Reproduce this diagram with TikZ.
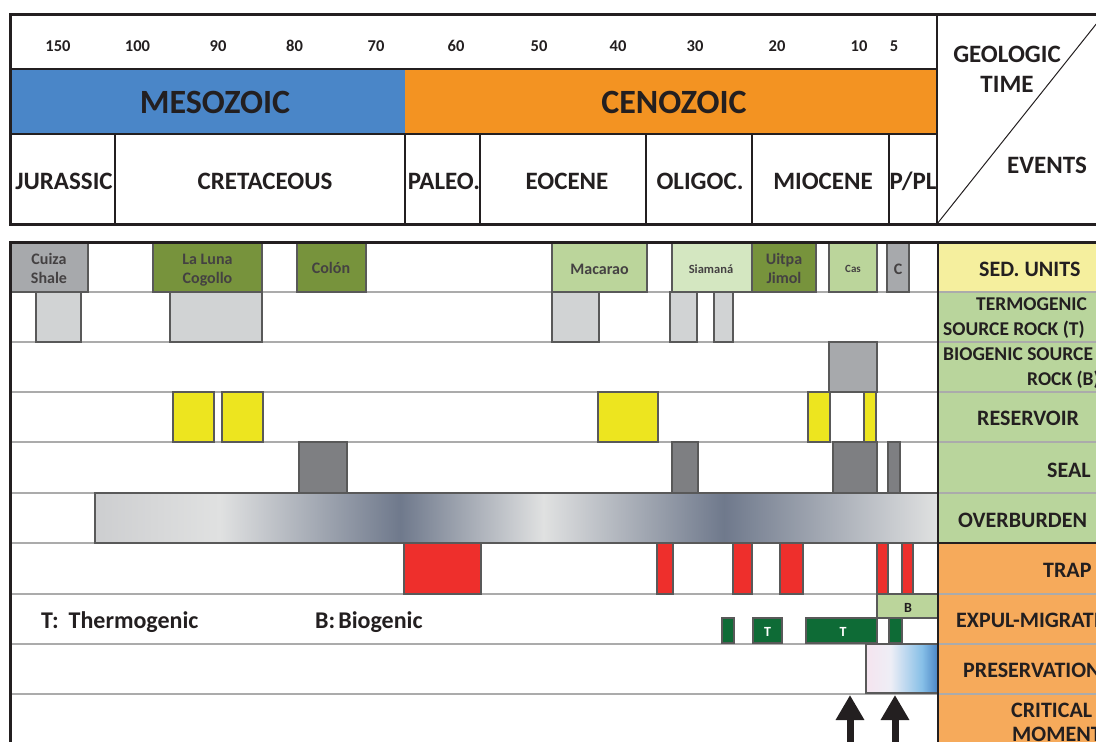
\documentclass[tikz,border=0pt]{standalone}
\usepackage{fontspec}
\setmainfont{Carlito}
\usetikzlibrary{arrows.meta}
\definecolor{ink}{HTML}{231F20}
\definecolor{meso}{HTML}{4A86C8}
\definecolor{ceno}{HTML}{F39322}
\definecolor{sedgray}{HTML}{A7A9AC}
\definecolor{olive}{HTML}{77933C}
\definecolor{lgreen}{HTML}{BBD59B}
\definecolor{pgreen}{HTML}{D4E7C1}
\definecolor{srcgray}{HTML}{D1D3D4}
\definecolor{resyel}{HTML}{EDE51F}
\definecolor{sealgray}{HTML}{7E7F82}
\definecolor{trapred}{HTML}{EE2F2C}
\definecolor{dgreen}{HTML}{0E6B36}
\definecolor{labyel}{HTML}{F5EF9E}
\definecolor{labgreen}{HTML}{B9D59C}
\definecolor{laborange}{HTML}{F6AA5B}
\definecolor{rowline}{HTML}{ABABAB}
\definecolor{obdark}{HTML}{6F798C}
\definecolor{oblight}{HTML}{E0E1E1}
\definecolor{obstart}{HTML}{CDCED0}
\definecolor{prL}{HTML}{F5E4EF}
\definecolor{prW}{HTML}{EEEEF6}
\definecolor{prM}{HTML}{86BFE7}
\definecolor{prR}{HTML}{4A84C4}
\pgfdeclarehorizontalshading{overb}{100bp}{color(0bp)=(obstart); color(25bp)=(obstart); color(32.4bp)=(oblight); color(43.1bp)=(obdark); color(51.6bp)=(oblight); color(62.3bp)=(obdark); color(75bp)=(oblight); color(100bp)=(oblight)}
\pgfdeclarehorizontalshading{presv}{100bp}{color(0bp)=(prL); color(25bp)=(prL); color(42bp)=(prW); color(64bp)=(prM); color(75bp)=(prR); color(100bp)=(prR)}
\newcommand{\evbox}[5]{\draw[boxline,fill=#5] (#1,#2) rectangle (#3,#4);}
\tikzset{
  outer/.style={draw=ink,line width=3pt},
  inner/.style={draw=ink,line width=1.5pt},
  rowl/.style={draw=rowline,line width=1.5pt},
  boxline/.style={draw=black!65,line width=1.1pt},
  num/.style={font=\fontsize{16.5}{16.5}\selectfont\bfseries,text=ink,inner sep=0pt,anchor=base},
  era/.style={font=\fontsize{34}{34}\selectfont\bfseries,text=ink,inner sep=0pt,anchor=base},
  per/.style={font=\fontsize{25}{25}\selectfont\bfseries,text=ink,inner sep=0pt,anchor=base},
  hdr/.style={font=\fontsize{25}{25}\selectfont\bfseries,text=ink,inner sep=0pt,anchor=base},
  unit/.style={font=\fontsize{16}{19}\selectfont\bfseries,text=ink!85,inner sep=0pt,anchor=base,align=center},
  lab/.style={font=\fontsize{22}{22}\selectfont\bfseries,text=ink,inner sep=0pt,anchor=base west},
  labs/.style={font=\fontsize{19.5}{19.5}\selectfont\bfseries,text=ink,inner sep=0pt,anchor=base west},
  legend/.style={font=\fontsize{24}{24}\selectfont\bfseries,text=ink,inner sep=0pt,anchor=base west},
  tag/.style={font=\fontsize{14}{14}\selectfont\bfseries,inner sep=0pt,anchor=base},
  cmarrow/.style={line width=7pt,draw=ink,-{Triangle[width=27pt,length=25pt]}},
}
\begin{document}
\begin{tikzpicture}[x=1pt,y=-1pt]
\useasboundingbox (0,0) rectangle (1096,742);
\clip (0,0) rectangle (1096,742);
% ================= HEADER =================
\fill[meso] (10,69) rectangle (405,134);
\fill[ceno] (405,69) rectangle (937,134);
\draw[inner] (10,69) -- (937,69);
\draw[inner] (10,134) -- (937,134);
\draw[inner] (115,134) -- (115,224);
\draw[inner] (405,134) -- (405,224);
\draw[inner] (480,134) -- (480,224);
\draw[inner] (646,134) -- (646,224);
\draw[inner] (752,134) -- (752,224);
\draw[inner] (889,134) -- (889,224);
\draw[inner] (937,14) -- (937,224);
\draw[draw=ink,line width=1pt] (937,224) -- (1105,13);
\draw[outer] (1120,14) -- (10,14) -- (10,224) -- (1120,224);
% numbers
\node[num] (n150) at (58,51) {150};
\node[num] (n100) at (137.5,51) {100};
\node[num] (n90) at (218,51) {90};
\node[num] (n80) at (294.5,51) {80};
\node[num] (n70) at (376,51) {70};
\node[num] (n60) at (456,51) {60};
\node[num] (n50) at (539,51) {50};
\node[num] (n40) at (618,51) {40};
\node[num] (n30) at (695,51) {30};
\node[num] (n20) at (777,51) {20};
\node[num] (n10) at (859,51) {10};
\node[num] (n5) at (894,51) {5};
% eras
\node[era] (meso) at (215,113) {MESOZOIC};
\node[era] (ceno) at (674,113) {CENOZOIC};
% periods
\node[per] (jur) at (64,189) {JURASSIC};
\node[per] (cre) at (265,189) {CRETACEOUS};
\node[per] (pal) at (444,189) {PALEO.};
\node[per] (eoc) at (567,189) {EOCENE};
\node[per] (oli) at (700,189) {OLIGOC.};
\node[per] (mio) at (823,189) {MIOCENE};
\node[per] (ppl) at (913,189) {P/PL};
% header right
\node[hdr] (geo) at (1007,62) {GEOLOGIC};
\node[hdr] (time) at (1007,92) {TIME};
\node[hdr] (events) at (1047,173) {EVENTS};
% ================= LOWER CHART =================
\fill[labyel] (938,242) rectangle (1120,292);
\fill[labgreen] (938,292) rectangle (1120,543);
\fill[laborange] (938,543) rectangle (1120,760);
\foreach \yy in {292,342,392,442,493,543,594,644,694}
  \draw[rowl] (10,\yy) -- (1120,\yy);
\draw[inner] (938,543) -- (1120,543);
% sed units
\evbox{10}{242}{88}{292}{sedgray}
\evbox{153}{242}{262}{292}{olive}
\evbox{297}{242}{366}{292}{olive}
\evbox{552}{242}{647}{292}{lgreen}
\evbox{672}{242}{752}{292}{pgreen}
\evbox{752}{242}{816}{292}{olive}
\evbox{829}{242}{877}{292}{lgreen}
\evbox{887}{242}{909}{292}{sedgray}
% termogenic source rock
\evbox{36}{292}{81}{342}{srcgray}
\evbox{170}{292}{262}{342}{srcgray}
\evbox{552}{292}{599}{342}{srcgray}
\evbox{670}{292}{697}{342}{srcgray}
\evbox{714}{292}{733}{342}{srcgray}
% biogenic source rock
\evbox{829}{342}{877}{392}{sedgray}
% reservoir
\evbox{173}{392}{214}{442}{resyel}
\evbox{222}{392}{263}{442}{resyel}
\evbox{598}{392}{658}{442}{resyel}
\evbox{808}{392}{830}{442}{resyel}
\evbox{864}{392}{876}{442}{resyel}
% seal
\evbox{299}{442}{347}{493}{sealgray}
\evbox{672}{442}{698}{493}{sealgray}
\evbox{833}{442}{877}{493}{sealgray}
\evbox{888}{442}{900}{493}{sealgray}
% overburden
\shade[shading=overb] (95,493) rectangle (938,543);
\draw[boxline] (95,493) rectangle (938,543);
% trap
\evbox{404}{543}{481}{594}{trapred}
\evbox{657}{543}{673}{594}{trapred}
\evbox{733}{543}{752}{594}{trapred}
\evbox{780}{543}{803}{594}{trapred}
\evbox{877}{543}{888}{594}{trapred}
\evbox{902}{543}{913}{594}{trapred}
% expulsion-migration
\evbox{877}{594}{938}{618}{lgreen}
\evbox{722}{618}{734}{643}{dgreen}
\evbox{753}{618}{782}{643}{dgreen}
\evbox{806}{618}{877}{643}{dgreen}
\evbox{889}{618}{902}{643}{dgreen}
\node[tag,text=ink] (tb) at (908,612.5) {B};
\node[tag,text=white] (tt1) at (767.5,636) {T};
\node[tag,text=white] (tt2) at (843,636) {T};
% preservation
\shade[shading=presv] (866,644) rectangle (938,693);
\draw[boxline] (866,644) rectangle (938,693);
% frame of lower chart
\draw[inner] (938,242) -- (938,760);
\draw[outer] (1120,242) -- (10,242) -- (10,760);
% unit labels (base anchor = baseline of last line)
\node[unit] (cuiza) at (49,283) {Cuiza\\Shale};
\node[unit] (laluna) at (207.5,283) {La Luna\\Cogollo};
\node[unit] (colon) at (331,273) {Colón};
\node[unit] (macarao) at (599.5,274) {Macarao};
\node[unit,font=\fontsize{12.5}{12.5}\selectfont\bfseries] (siamana) at (711,273) {Siamaná};
\node[unit] (uitpa) at (784,283) {Uitpa\\Jimol};
\node[unit,font=\fontsize{11}{11}\selectfont\bfseries] (cas) at (853,272) {Cas};
\node[unit] (cc) at (898,274) {C};
% legend
\node[legend] (legT) at (41,628) {T:\hspace{10pt}Thermogenic};
\node[legend] (legB) at (315,628) {B:\hspace{3pt}Biogenic};
% event labels
\node[lab] (lsed) at (979,276) {SED. UNITS};
\node[labs] (lterm1) at (976,310) {TERMOGENIC};
\node[labs] (lterm2) at (943,335) {SOURCE ROCK (T)};
\node[labs] (lbio1) at (943,360) {BIOGENIC SOURCE};
\node[labs] (lbio2) at (1027,385) {ROCK (B)};
\node[lab] (lres) at (977,425) {RESERVOIR};
\node[lab] (lseal) at (1047,477) {SEAL};
\node[lab] (lover) at (958,527) {OVERBURDEN};
\node[lab] (ltrap) at (1043,577) {TRAP};
\node[lab] (lexp) at (956,627) {EXPUL-MIGRATION};
\node[lab] (lpres) at (963,677) {PRESERVATION};
\node[lab] (lcrit1) at (1011,717) {CRITICAL};
\node[lab] (lcrit2) at (1012,741) {MOMENT};
% critical moment arrows
\coordinate (cm1b) at (850,770);
\coordinate (cm1t) at (850,695);
\coordinate (cm2b) at (895,770);
\coordinate (cm2t) at (895,695);
\draw[cmarrow] (cm1b) -- (cm1t);
\draw[cmarrow] (cm2b) -- (cm2t);
\end{tikzpicture}
\end{document}
